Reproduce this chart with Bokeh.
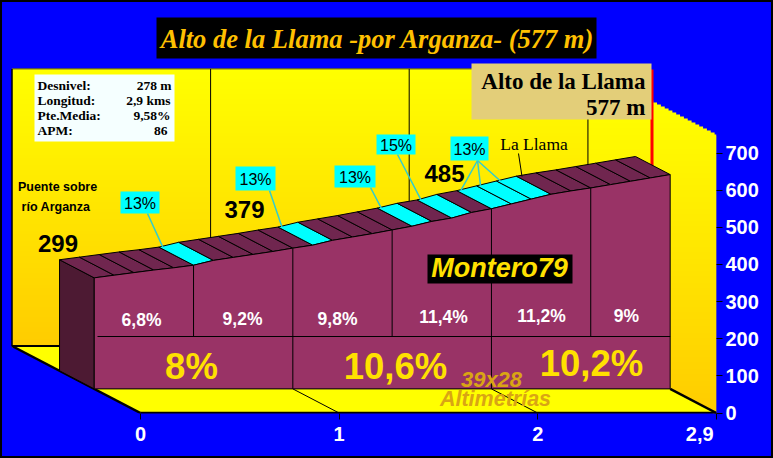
from bokeh.plotting import figure
from bokeh.models import FixedTicker, GlobalInlineStyleSheet
from bokeh.core.properties import value
from bokeh.embed import file_html
from bokeh.resources import INLINE

# ---------- data ----------
title = "Alto de la Llama -por Arganza- (577 m)"
km_steps = [0.0, 0.1, 0.2, 0.3, 0.4, 0.5, 0.6, 0.7, 0.8, 0.9, 1.0, 1.1, 1.2, 1.3, 1.4,
            1.5, 1.6, 1.7, 1.8, 1.9, 2.0, 2.1, 2.2, 2.3, 2.4, 2.5, 2.6, 2.7, 2.8, 2.9]
altitude = [299, 306, 313, 320, 326, 333, 346, 354, 362, 370, 379, 387, 400, 409, 418,
            428, 438, 451, 460, 475, 485, 498, 511, 524, 533, 541, 550, 559, 568, 577]
steep_starts = [0.5, 1.1, 1.6, 1.8, 2.0, 2.1, 2.2]
upper_dividers = [0.5, 1.0, 1.5, 2.0, 2.5]
lower_dividers = [1.0, 2.0]
x_ticks = [0, 1, 2, 2.9]
y_ticks = [0, 100, 200, 300, 400, 500, 600, 700]
seg_grades = ["6,8%", "9,2%", "9,8%", "11,4%", "11,2%", "9%"]
km_grades = ["8%", "10,6%", "10,2%"]
stat_names = ["Desnivel:", "Longitud:", "Pte.Media:", "APM:"]
stat_values = ["278 m", "2,9 kms", "9,58%", "86"]

# ---------- scales: reference pixel <-> data on the front plane ----------
PX_KM = 198.6
PX_M = 0.3714
OX, OY = 140.0, 412.5
DEPTH_X, DEPTH_Y = 128.5, 67
D_KM, D_M = DEPTH_X / PX_KM, DEPTH_Y / PX_M
FRONT, BACK = 0.36, 0.63
WALL_TOP = 746


def X(px):
    return (px - OX) / PX_KM


def Y(py):
    return (OY - py) / PX_M


def xs_of(km, d):
    return km - d * D_KM


def ys_of(alt, d):
    return alt + d * D_M


NAVY = "#0000ff"
p = figure(width=773, height=458, frame_width=716, frame_height=413,
           x_range=(X(0), X(716)), y_range=(Y(413), Y(0)),
           output_backend="svg", toolbar_location=None,
           min_border_left=0, min_border_top=0, min_border_right=57, min_border_bottom=45,
           background_fill_color=NAVY, border_fill_color=NAVY, outline_line_color=None,
           y_axis_location="right")
p.stylesheets = [GlobalInlineStyleSheet(css=(
    f"html,body{{background:{NAVY};overflow:hidden}}"
    "body::before{content:'';position:fixed;inset:0;border:2px solid #000;pointer-events:none;z-index:9}"))]
p.grid.visible = False

for ax, ticks in ((p.xaxis[0], x_ticks), (p.yaxis[0], y_ticks)):
    ax.ticker = FixedTicker(ticks=ticks)
    ax.axis_line_color = None
    ax.major_tick_line_color = "#000000"
    ax.major_tick_out = 6
    ax.major_tick_in = 0
    ax.minor_tick_line_color = None
    ax.major_label_text_color = "#ffffff"
    ax.major_label_text_font = "Liberation Sans"
    ax.major_label_text_font_style = "bold"
    ax.major_label_text_font_size = "20px"
p.yaxis[0].major_label_standoff = 3
p.xaxis[0].major_label_standoff = 3
p.xaxis[0].major_label_overrides = {2.9: "2,9" + "\u00a0" * 6}


def gold(t):
    t = max(0.0, min(1.0, t))
    return "#ff%02x00" % round(255 - 51 * t)


# back wall gradient
wl, wr = xs_of(0, 1), xs_of(2.9, 1)
WALL_X = 716 - DEPTH_X
rows = list(range(68, 346, 2))
p.quad(left=[wl] * len(rows), right=[wr] * len(rows),
       top=[Y(r) for r in rows], bottom=[Y(r + 3) for r in rows],
       fill_color=[gold((r - 68) / 277) for r in rows], line_color=None)

# right wall gradient
rows = list(range(68, 413, 2))
slope = DEPTH_Y / DEPTH_X
lefts, rights = [], []
for r in rows:
    rights.append(X(min(716, WALL_X + (r + 2 - 68) / slope)))
    lefts.append(X(max(WALL_X, WALL_X + (r - 345) / slope)))
p.quad(left=lefts, right=rights, top=[Y(r) for r in rows], bottom=[Y(r + 3) for r in rows],
       fill_color=[gold((r - 100) / 313) for r in rows], line_color=None)

# floor
p.patch([xs_of(0, 1), xs_of(2.9, 1), 2.9, 0], [ys_of(0, 1), ys_of(0, 1), 0, 0],
        fill_color="#ffff00", line_color=None)

# wall frame and grid
p.line([wl, wl], [ys_of(0, 1), ys_of(WALL_TOP, 1)], line_color="#000000", line_width=1.5)
p.line([wl, wr], [ys_of(WALL_TOP, 1)] * 2, line_color="#000000", line_width=0.6)
p.line([wl, xs_of(0.24, 1)], [ys_of(0, 1)] * 2, line_color="#000000", line_width=2)
p.line([wl, 0], [ys_of(0, 1), 0], line_color="#000000", line_width=2.5)
p.line([0, 2.9], [0, 0], line_color="#000000", line_width=2.5)
p.line([xs_of(2.9, FRONT), 2.9], [ys_of(0, FRONT), 0], line_color="#000000", line_width=2.5)
for k in [1, 2, 2.9]:
    p.line([xs_of(k, 1)] * 2, [ys_of(0, 1), ys_of(WALL_TOP, 1)], line_color="#000000", line_width=1)
for k in lower_dividers:
    p.line([xs_of(k, FRONT), k], [ys_of(0, FRONT), 0], line_color="#000000", line_width=1)

# red summit post
p.line([X(651.5)] * 2, [Y(69), Y(166)], line_color="#ff0000", line_width=3)

# left side of the block
p.patch([xs_of(0, BACK), xs_of(0, FRONT), xs_of(0, FRONT), xs_of(0, BACK)],
        [ys_of(altitude[0], BACK), ys_of(altitude[0], FRONT), ys_of(0, FRONT), ys_of(0, BACK)],
        fill_color="#4d1a33", line_color="#000000", line_width=1)

# top stripes
xs_top, ys_top, fills = [], [], []
for i in range(len(km_steps) - 1):
    k0, k1, a0, a1 = km_steps[i], km_steps[i + 1], altitude[i], altitude[i + 1]
    xs_top.append([xs_of(k0, FRONT), xs_of(k1, FRONT), xs_of(k1, BACK), xs_of(k0, BACK)])
    ys_top.append([ys_of(a0, FRONT), ys_of(a1, FRONT), ys_of(a1, BACK), ys_of(a0, BACK)])
    fills.append("#00ffff" if k0 in steep_starts else "#70264f")
p.patches(xs_top, ys_top, fill_color=fills, line_color="#000000", line_width=1)

# front face
fx = [xs_of(k, FRONT) for k in km_steps]
fy = [ys_of(a, FRONT) for a in altitude]
p.patch(fx + [fx[-1], fx[0]], fy + [ys_of(0, FRONT), ys_of(0, FRONT)],
        fill_color="#993366", line_color="#000000", line_width=1)

row_y = Y(336)
for k in upper_dividers:
    a = altitude[km_steps.index(k)]
    p.line([xs_of(k, FRONT)] * 2, [row_y, ys_of(a, FRONT)], line_color="#000000", line_width=1)
for k in lower_dividers:
    p.line([xs_of(k, FRONT)] * 2, [ys_of(0, FRONT), row_y], line_color="#000000", line_width=1)
p.line([X(97), xs_of(2.9, FRONT)], [row_y, row_y], line_color="#000000", line_width=1)


def label_text(xs, ys, texts, font, size, color, style="normal", align="center"):
    p.text([X(v) for v in xs], [Y(v) for v in ys], text=texts, text_font=value(font),
           text_font_size=size, text_color=color, text_font_style=style,
           text_align=align, text_baseline="middle")


# grade call-outs: (box, leader origin, start km of the stripes it points at)
callouts = [
    ("13%", (120, 191, 159, 213), (147, 213), [0.5]),
    ("13%", (235, 166, 275, 190), (269, 190), [1.1]),
    ("13%", (334, 165, 375, 187), (370, 187), [1.6]),
    ("15%", (376, 134, 415, 154), (397, 154), [1.8]),
    ("13%", (450, 136, 488, 160), (477, 160), [2.0, 2.1, 2.2]),
]
for txt, (l, t, r, b), (lx, ly), kms in callouts:
    for k in kms:
        a = altitude[km_steps.index(k)]
        p.line([X(lx), xs_of(k + 0.02, BACK)], [Y(ly), ys_of(a, BACK)],
               line_color="#33cccc", line_width=1.5)
    p.quad(left=[X(l)], right=[X(r)], top=[Y(t)], bottom=[Y(b)], fill_color="#00ffff", line_color=None)
    label_text([(l + r) / 2], [(t + b) / 2 + 0.5], [txt], "Liberation Sans", "16px", "#000000")

# La Llama
label_text([533.5], [143], ["La Llama"], "Liberation Serif", "17.5px", "#000000")
p.line([X(518), X(521.5)], [Y(153), Y(176)], line_color="#000000", line_width=1)

# title
p.quad(left=[X(156)], right=[X(596)], top=[Y(17)], bottom=[Y(58)], fill_color="#000000", line_color=None)
label_text([377], [38], [title], "Liberation Serif", "26.5px", "#ffc000", "bold italic")

# summit box
p.quad(left=[X(471)], right=[X(651)], top=[Y(63)], bottom=[Y(119)], fill_color="#e3ce79", line_color=None)
label_text([645], [81], ["Alto de la Llama"], "Liberation Serif", "23px", "#000000", "bold", "right")
label_text([645], [107], ["577 m"], "Liberation Serif", "23px", "#000000", "bold", "right")

# stats box
p.quad(left=[X(34)], right=[X(174)], top=[Y(74)], bottom=[Y(141)], fill_color="#f5ffff", line_color=None)
ys_stats = [85, 100, 115, 130]
label_text([37] * 4, ys_stats, stat_names, "Liberation Serif", "13.5px", "#000000", "bold", "left")
label_text([171, 170, 170, 167], ys_stats, stat_values, "Liberation Serif", "13.5px", "#000000", "bold", "right")

# place labels
label_text([57, 55.5], [186, 206], ["Puente sobre", "río Arganza"], "Liberation Sans", "12.5px", "#000000", "bold")
label_text([57.5, 244, 444], [243, 209, 173], ["299", "379", "485"], "Liberation Sans", "24px", "#000000", "bold")

# segment grades
label_text([141, 242, 337, 443, 541, 626], [319, 318, 318, 316, 315, 315], seg_grades,
           "Liberation Sans", "17.5px", "#ffffff", "bold")
label_text([191, 395, 591], [366, 366, 363], km_grades, "Liberation Sans", "36.5px", "#ffe100", "bold")

# signature
p.quad(left=[X(427)], right=[X(572)], top=[Y(254)], bottom=[Y(283)], fill_color="#000000", line_color=None)
label_text([499], [267], ["Montero79"], "Liberation Sans", "27px", "#ffe100", "bold italic")
label_text([491], [379], ["39x28"], "Liberation Sans", "22px", "#d9a514", "bold italic")
label_text([495], [398], ["Altimetrías"], "Liberation Sans", "21.5px", "#d9a514", "bold italic")

open("out.html", "w").write(file_html(p, INLINE))
